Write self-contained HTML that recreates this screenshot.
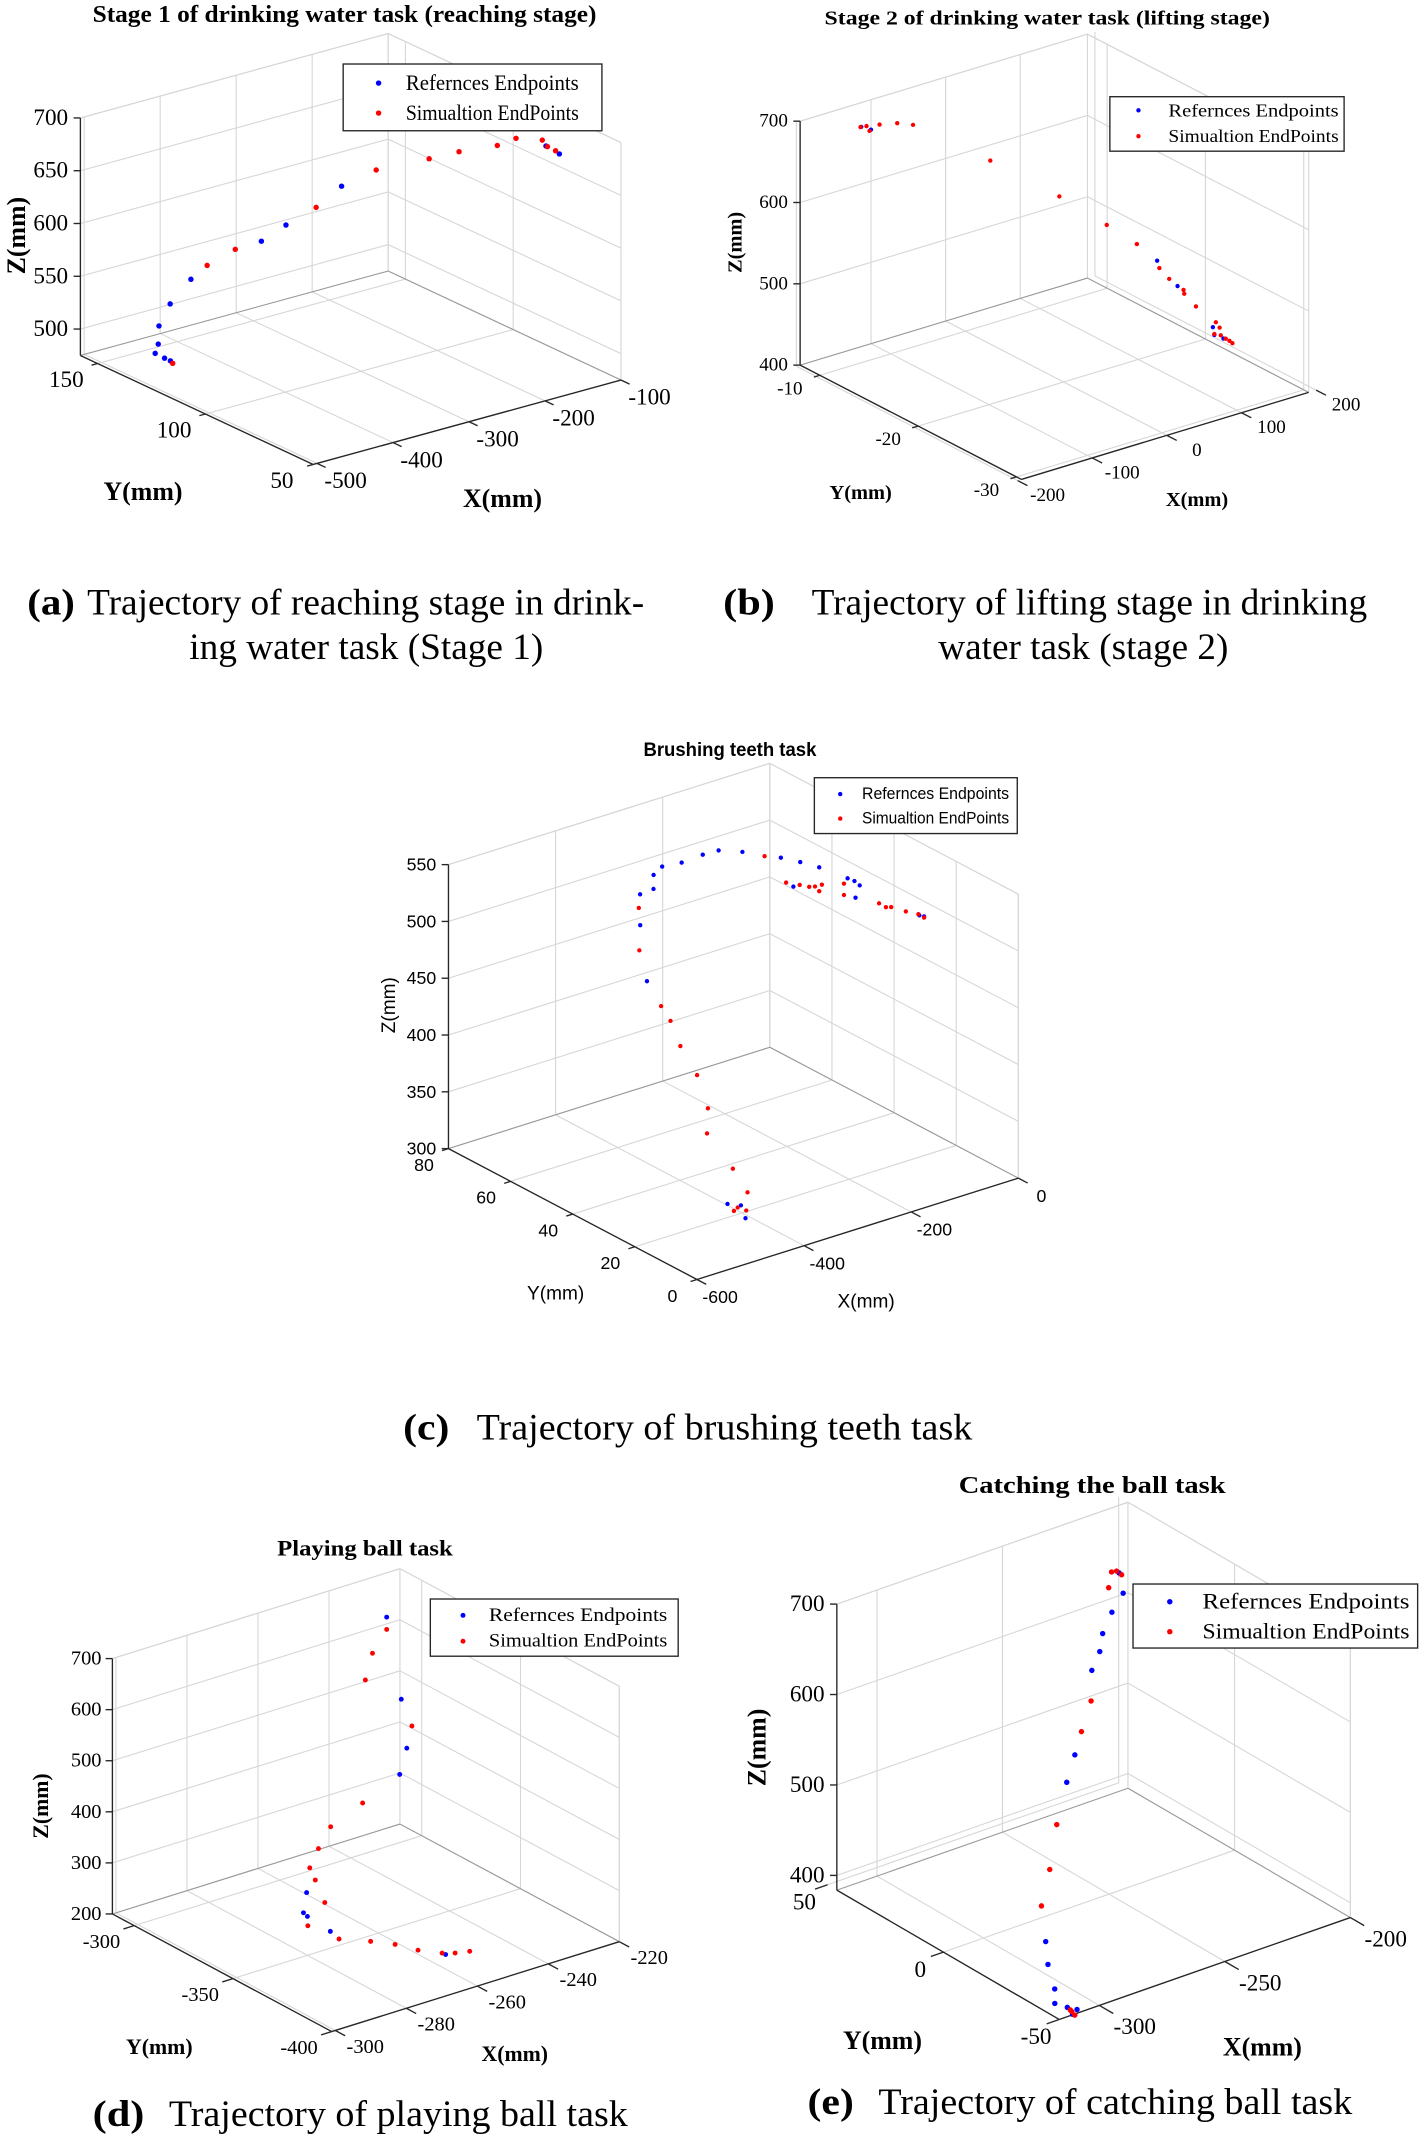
<!DOCTYPE html>
<html><head><meta charset="utf-8">
<style>
html,body{margin:0;padding:0;background:#fff;}
svg{display:block;}
.ser{font-family:"Liberation Serif",serif;}
.san{font-family:"Liberation Sans",sans-serif;}
</style></head>
<body>
<svg id="fig" xmlns="http://www.w3.org/2000/svg" width="1419" height="2137" viewBox="0 0 1042 1569" preserveAspectRatio="none">
  <!-- Titles -->
  <text class="ser" x="253" y="16" font-size="18" font-weight="bold" text-anchor="middle" textLength="370" lengthAdjust="spacingAndGlyphs">Stage 1 of drinking water task (reaching stage)</text>
  <text class="ser" x="769" y="18" font-size="15" font-weight="bold" text-anchor="middle" textLength="327" lengthAdjust="spacingAndGlyphs">Stage 2 of drinking water task (lifting stage)</text>
  <text class="san" x="536" y="555" font-size="14" font-weight="bold" text-anchor="middle" textLength="127" lengthAdjust="spacingAndGlyphs">Brushing teeth task</text>
  <text class="ser" x="268" y="1142" font-size="16" font-weight="bold" text-anchor="middle" textLength="129" lengthAdjust="spacingAndGlyphs">Playing ball task</text>
  <text class="ser" x="802" y="1096" font-size="18" font-weight="bold" text-anchor="middle" textLength="196" lengthAdjust="spacingAndGlyphs">Catching the ball task</text>

  <!-- Captions -->
  <g class="ser" font-size="27">
    <text x="20" y="451" font-weight="bold" textLength="35" lengthAdjust="spacingAndGlyphs">(a)</text>
    <text x="64" y="451" textLength="409" lengthAdjust="spacingAndGlyphs">Trajectory of reaching stage in drink-</text>
    <text x="139" y="484" textLength="260" lengthAdjust="spacingAndGlyphs">ing water task (Stage 1)</text>
  </g>
  <g class="ser" font-size="27">
    <text x="531" y="451" font-weight="bold" textLength="38" lengthAdjust="spacingAndGlyphs">(b)</text>
    <text x="596" y="451" textLength="408" lengthAdjust="spacingAndGlyphs">Trajectory of lifting stage in drinking</text>
    <text x="689" y="484" textLength="213" lengthAdjust="spacingAndGlyphs">water task (stage 2)</text>
  </g>
  <g class="ser" font-size="27">
    <text x="296" y="1057" font-weight="bold" textLength="34" lengthAdjust="spacingAndGlyphs">(c)</text>
    <text x="350" y="1057" textLength="364" lengthAdjust="spacingAndGlyphs">Trajectory of  brushing teeth task</text>
  </g>
  <g class="ser" font-size="27">
    <text x="68" y="1561" font-weight="bold" textLength="38" lengthAdjust="spacingAndGlyphs">(d)</text>
    <text x="124" y="1561" textLength="337" lengthAdjust="spacingAndGlyphs">Trajectory of  playing ball task</text>
  </g>
  <g class="ser" font-size="27">
    <text x="593" y="1552" font-weight="bold" textLength="34" lengthAdjust="spacingAndGlyphs">(e)</text>
    <text x="645" y="1552" textLength="348" lengthAdjust="spacingAndGlyphs">Trajectory of  catching ball task</text>
  </g>
</svg>
<script>
// ---------- Chart (a) data ----------
const aRefX = [-486,-482,-481,-472,-456,-403,-382,-340,-159,-147,-468,-466];
const aRefY = [130,130,130,128,124,110,106,95,64,62,132,130];
const aRefZ = [500,508,525,546,570,609,624,663,695,687,490,489];
const aSimX = [-463,-446,-426,-365,-320,-273,-245,-206,-187,-161,-157,-152];
const aSimY = [130,120,114,98,86,78,74,70,68,65,64,62];
const aSimZ = [486,585,602,645,683,692,697,699,704,700,694,691];
const aXTicks = [-500,-400,-300,-200,-100];
const aYTicks = [50,100,150];
const aZTicks = [500,550,600,650,700];
// ---------- Chart (b) data ----------
const bRefX = [-146,-133,66,67,88,90,89];
const bRefY = [-10.5,-10.5,-24.5,-26.5,-28.5,-28.5,-29.5];
const bRefZ = [695,688,559,540,496,486,488];
const bSimX = [-147,-139,-135,-121.5,-111,-103,-39,14,38,52,69,69,75,76,78.5,92,97,90,92,92,97,101];
const bSimY = [-10.5,-10.5,-10.5,-10.5,-11.5,-12.5,-15.5,-18.5,-21.5,-23.5,-24.5,-25.5,-26.5,-26.5,-27.5,-28.5,-28.5,-28.5,-29,-29.5,-29.5,-29.5];
const bSimZ = [695,694,687,691,696,698,655,615,592,577,549,542,533,528,518,501,493,487,488,487,483,479];
const bXTicks = [-200,-100,0,100,200];
const bYTicks = [-30,-20,-10];
const bZTicks = [400,500,600,700];
// ---------- Chart (c) data ----------
const cRefX = [-364,-333,-339,-317,-298,-276,-258,-231,-194,-181,-163,-139,-132,-128,-188,-130,-92,-89,-387,-415,-427,-405,-402];
const cRefY = [59,60,59,60,57,54,52,49,43,39,36,31,30,29,40,30,16,15,55,48,20,18,20];
const cRefZ = [519,530,520,535,540,548,552,551,549,549,546,540,538,535,527,523,522,522,501,466,312,299,307];
const cSimX = [-378,-406,-406,-400,-399,-391,-394,-413,-388,-378,-415,-392,-408,-207,-190,-182,-170,-165,-163,-158,-140,-140,-115,-108,-104,-94,-88,-89];
const cSimY = [57,52,45,43,40,36,32,29,25,22,20,20,20,46,42,39,38,37,36,36,32,32,25,24,23,20,17,15];
const cSimZ = [512,486,447,436,418,397,374,359,330,312,304,301,306,548,528,529,527,528,525,530,534,524,523,520,521,520,521,521];
const cXTicks = [-600,-400,-200,0];
const cYTicks = [0,20,40,60,80];
const cZTicks = [300,350,400,450,500,550];
// ---------- Chart (d) data ----------
const dRefX = [-241,-238,-237,-239,-268,-270,-270,-268,-255];
const dRefY = [-320,-322,-323,-323,-328,-330,-332,-340,-375];
const dRefZ = [715,552,456,409,251,220,217,200,199];
const dSimX = [-241,-245,-247,-235,-250,-259,-263,-266,-265,-264,-271,-270,-265,-262,-260,-256,-254,-251];
const dSimY = [-320,-320,-320,-322,-324,-324,-325,-326,-327,-330,-334,-348,-355,-362,-370,-375,-378,-380];
const dSimZ = [691,653,605,493,379,352,320,291,267,227,205,206,205,207,208,204,206,207];
const dXTicks = [-300,-280,-260,-240,-220];
const dYTicks = [-400,-350,-300];
const dZTicks = [200,300,400,500,600,700];
// ---------- Chart (e) data ----------
const eRefX = [-246,-246.5,-253,-259,-262,-267,-283,-289,-314,-315.5,-315.4,-316,-312.3,-308.9,-310.7];
const eRefY = [0,-2.3,-4.5,-7,-9,-11,-21,-24,-42,-44.6,-47.4,-48.1,-49.5,-50,-50];
const eRefZ = [735,716.5,705,691,677,664,601,581,456,436,413,398.6,392.7,387.8,384.3];
const eSimX = [-249,-247,-245,-252,-271,-277.6,-297.6,-305,-312,-311,-309.8,-311.6];
const eSimY = [0,0,0,-2,-15,-18,-29,-34,-38,-50,-50,-50];
const eSimZ = [739,738,732,727.5,640,617,550,515,487.5,387.5,382.5,390];
const eXTicks = [-300,-250,-200];
const eYTicks = [-50,0,50];
const eZTicks = [400,500,600,700];

const NS = 'http://www.w3.org/2000/svg';
const svg = document.getElementById('fig');

function mk(tag, attrs, parent) {
  const el = document.createElementNS(NS, tag);
  for (const k in attrs) el.setAttribute(k, attrs[k]);
  parent.appendChild(el);
  return el;
}

function drawChart(cfg) {
  const g = mk('g', {}, svg);
  
  
  const P = (x, y, z) => [
    cfg.O[0] + (x - cfg.xr[0]) * cfg.ex[0] + (y - cfg.yr[0]) * cfg.ey[0],
    cfg.O[1] + (x - cfg.xr[0]) * cfg.ex[1] + (y - cfg.yr[0]) * cfg.ey[1] + (z - cfg.zr[0]) * cfg.ez
  ];
  const [x0, x1] = cfg.xr, [y0, y1] = cfg.yr, [z0, z1] = cfg.zr;
  const line = (p, q, color, w, nm) => {
    const l = mk('line', {x1: p[0], y1: p[1], x2: q[0], y2: q[1], stroke: color, 'stroke-width': w}, g);
    
    
  };
  const GC = '#d6d6d6', GW = 0.8;
  // grid
  cfg.xt.forEach(v => {
    line(P(v, y0, z0), P(v, y1, z0), GC, GW, 'grid-x');
    line(P(v, y1, z0), P(v, y1, z1), GC, GW, 'grid-x');
  });
  cfg.yt.forEach(v => {
    line(P(x0, v, z0), P(x1, v, z0), GC, GW, 'grid-y');
    line(P(x1, v, z0), P(x1, v, z1), GC, GW, 'grid-y');
  });
  cfg.zt.forEach(v => {
    line(P(x0, y1, v), P(x1, y1, v), GC, GW, 'grid-z');
    line(P(x1, y1, v), P(x1, y0, v), GC, GW, 'grid-z');
  });
  // wall edges
  line(P(x1, y1, z0), P(x1, y1, z1), GC, GW, 'box-edge');
  line(P(x1, y0, z0), P(x1, y0, z1), GC, GW, 'box-edge');
  line(P(x0, y1, z1), P(x1, y1, z1), GC, GW, 'box-edge');
  line(P(x1, y1, z1), P(x1, y0, z1), GC, GW, 'box-edge');
  line(P(x0, y1, z0), P(x1, y1, z0), '#9a9a9a', GW, 'box-edge');
  line(P(x1, y1, z0), P(x1, y0, z0), '#9a9a9a', GW, 'box-edge');
  // axes
  const AC = '#262626';
  line(P(x0, y1, z0), P(x0, y1, z1), AC, 1, 'z-axis');
  line(P(x0, y0, z0), P(x0, y1, z0), AC, 1, 'y-axis');
  line(P(x0, y0, z0), P(x1, y0, z0), AC, 1, 'x-axis');
  // ticks & labels
  const tf = cfg.font;
  cfg.zt.forEach(v => {
    const p = P(x0, y1, v);
    line(p, [p[0] - 5, p[1]], AC, 1, 'z-tick');
    const t = mk('text', {x: p[0] - cfg.zoff, y: p[1], 'text-anchor': 'end', 'dominant-baseline': 'central', 'font-size': cfg.fs, 'font-family': tf}, g);
    
    
    t.textContent = v;
  });
  cfg.yt.forEach(v => {
    const p = P(x0, v, z0);
    const q = [p[0] - cfg.ex[0] * cfg.tl, p[1] - cfg.ex[1] * cfg.tl];
    line(p, q, AC, 1, 'y-tick');
    const t = mk('text', {x: p[0] + cfg.yoff[0], y: p[1] + cfg.yoff[1], 'text-anchor': 'middle', 'dominant-baseline': 'central', 'font-size': cfg.fs, 'font-family': tf}, g);
    
    
    t.textContent = v;
  });
  cfg.xt.forEach(v => {
    const p = P(v, y0, z0);
    const q = [p[0] - cfg.ey[0] * cfg.tly, p[1] - cfg.ey[1] * cfg.tly];
    line(p, q, AC, 1, 'x-tick');
    const t = mk('text', {x: p[0] + cfg.xoff[0], y: p[1] + cfg.xoff[1], 'text-anchor': 'middle', 'dominant-baseline': 'central', 'font-size': cfg.fs, 'font-family': tf}, g);
    
    
    t.textContent = v;
  });
  // axis titles
  const bold = cfg.bold ? 'bold' : 'normal';
  const zt = mk('text', {x: 0, y: 0, transform: `translate(${cfg.zl[0]},${cfg.zl[1]}) rotate(-90)`, 'text-anchor': 'middle', 'dominant-baseline': 'central', 'font-size': cfg.lfs, 'font-weight': bold, 'font-family': tf}, g);
  
  
  zt.textContent = 'Z(mm)';
  const yt = mk('text', {x: cfg.yl[0], y: cfg.yl[1], 'text-anchor': 'middle', 'dominant-baseline': 'central', 'font-size': cfg.lfs, 'font-weight': bold, 'font-family': tf}, g);
  
  
  yt.textContent = 'Y(mm)';
  const xt = mk('text', {x: cfg.xl[0], y: cfg.xl[1], 'text-anchor': 'middle', 'dominant-baseline': 'central', 'font-size': cfg.lfs, 'font-weight': bold, 'font-family': tf}, g);
  
  
  xt.textContent = 'X(mm)';
  // points
  const series = [
    [cfg.ref, '#0000ff', 'reference-point'],
    [cfg.sim, '#ff0000', 'simulation-point']
  ];
  series.forEach(([d, col, nm]) => {
    d[0].forEach((xv, i) => {
      const p = P(xv, d[1][i], d[2][i]);
      const c = mk('circle', {cx: p[0], cy: p[1], r: cfg.r, fill: col}, g);
      
      
    });
  });
  // legend
  const L = cfg.leg;
  const lg = mk('g', {}, g);
  
  
  mk('rect', {x: L.x, y: L.y, width: L.w, height: L.h, fill: '#fff', stroke: '#262626', 'stroke-width': 1}, lg);
  [['Refernces Endpoints', '#0000ff', L.y1, 'legend-entry-references'], ['Simualtion EndPoints', '#ff0000', L.y2, 'legend-entry-simulation']].forEach(([txt, col, yy, nm]) => {
    const e = mk('g', {}, lg);
    
    
    mk('circle', {cx: L.dx, cy: yy, r: cfg.r, fill: col}, e);
    const t = mk('text', {x: L.tx, y: yy, 'dominant-baseline': 'central', 'font-size': L.fs, 'font-family': tf, textLength: L.tw, lengthAdjust: 'spacingAndGlyphs'}, e);
    t.textContent = txt;
  });
}

const SER = '"Liberation Serif", serif';
const SAN = '"Liberation Sans", sans-serif';

drawChart({name: 'chart-a-reaching', O: [230, 341], ex: [0.558, -0.153], ey: [-1.583, -0.741], ez: -0.775,
  xr: [-505, -100], yr: [50, 158], zr: [475, 700], xt: aXTicks, yt: aYTicks, zt: aZTicks,
  ref: [aRefX, aRefY, aRefZ], sim: [aSimX, aSimY, aSimZ], font: SER, fs: 17, lfs: 19, bold: true, r: 2,
  zoff: 9, yoff: [-23, 12], xoff: [21, 13], tl: 8, tly: 4,
  zl: [12, 173], yl: [105, 361], xl: [369, 366],
  leg: {x: 252, y: 47, w: 190, h: 49, dx: 278, tx: 298, y1: 61, y2: 83, fs: 16, tw: 127}});

drawChart({name: 'chart-b-lifting', O: [750, 352], ex: [0.548, -0.166], ey: [-7.22, -3.73], ez: -0.597,
  xr: [-195, 190], yr: [-30.5, -8], zr: [400, 700], xt: bXTicks, yt: bYTicks, zt: bZTicks,
  ref: [bRefX, bRefY, bRefZ], sim: [bSimX, bSimY, bSimZ], font: SER, fs: 14, lfs: 15, bold: true, r: 1.6,
  zoff: 9, yoff: [-22, 10], xoff: [22, 11], tl: 8, tly: 1,
  zl: [540, 178], yl: [632, 362], xl: [879, 367],
  leg: {x: 815, y: 71, w: 172, h: 40, dx: 836, tx: 858, y1: 81, y2: 100, fs: 13, tw: 125}});

drawChart({name: 'chart-c-brushing', O: [511.8, 939.4], ex: [0.3933, -0.124], ey: [-2.281, -1.201], ez: -0.834,
  xr: [-600, 0], yr: [0, 80], zr: [300, 550], xt: cXTicks, yt: cYTicks, zt: cZTicks,
  ref: [cRefX, cRefY, cRefZ], sim: [cSimX, cSimY, cSimZ], font: SAN, fs: 13, lfs: 14, bold: false, r: 1.6,
  zoff: 9, yoff: [-18, 12], xoff: [17, 13], tl: 12, tly: 3,
  zl: [286, 738], yl: [408, 950], xl: [636, 956],
  leg: {x: 598, y: 571, w: 149, h: 41, dx: 617, tx: 633, y1: 583, y2: 601, fs: 12, tw: 108}});

drawChart({name: 'chart-d-playing-ball', O: [243.6, 1491.6], ex: [2.607, -0.815], ey: [-1.451, -0.778], ez: -0.375,
  xr: [-301, -220], yr: [-400, -289], zr: [200, 700], xt: dXTicks, yt: dYTicks, zt: dZTicks,
  ref: [dRefX, dRefY, dRefZ], sim: [dSimX, dSimY, dSimZ], font: SER, fs: 15, lfs: 16, bold: true, r: 1.8,
  zoff: 8, yoff: [-24, 12], xoff: [22, 12], tl: 3, tly: 5,
  zl: [30, 1326], yl: [117, 1503], xl: [378, 1508],
  leg: {x: 316, y: 1174, w: 182, h: 42, dx: 340, tx: 359, y1: 1186, y2: 1205, fs: 14, tw: 131}});

drawChart({name: 'chart-e-catching-ball', O: [777.8, 1482.7], ex: [1.843, -0.645], ey: [-1.701, -0.989], ez: -0.664,
  xr: [-316, -200], yr: [-50, 46], zr: [383.7, 700], xt: eXTicks, yt: eYTicks, zt: eZTicks,
  ref: [eRefX, eRefY, eRefZ], sim: [eSimX, eSimY, eSimZ], font: SER, fs: 17, lfs: 19, bold: true, r: 2,
  zoff: 9, yoff: [-17, 13], xoff: [26, 16], tl: 5, tly: 6,
  zl: [556, 1283], yl: [648, 1498], xl: [927, 1503],
  leg: {x: 832, y: 1163, w: 209, h: 47, dx: 859, tx: 883, y1: 1176, y2: 1198, fs: 16, tw: 152}});
</script>
</body></html>
